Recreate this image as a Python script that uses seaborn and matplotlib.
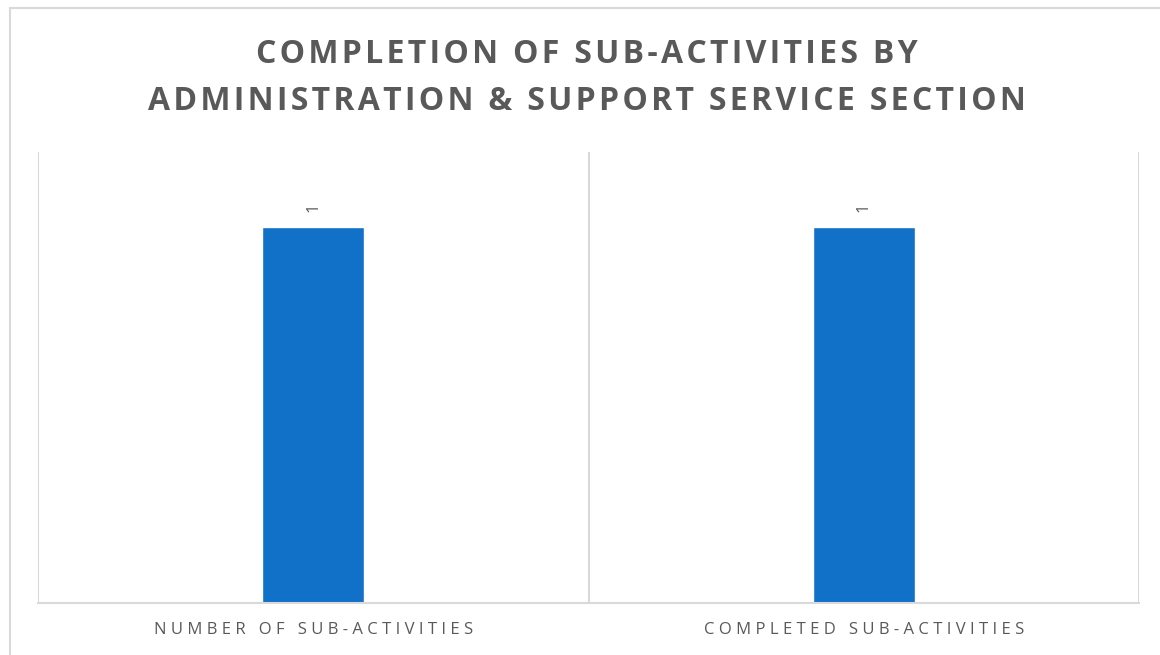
import matplotlib
matplotlib.use("Agg")
import matplotlib.pyplot as plt
import seaborn as sns
import pandas as pd
from matplotlib.lines import Line2D

# data
categories = ["NUMBER OF SUB-ACTIVITIES", "COMPLETED SUB-ACTIVITIES"]
values = [1, 1]
title_lines = ["COMPLETION OF SUB-ACTIVITIES BY", "ADMINISTRATION & SUPPORT SERVICE SECTION"]

BLUE = "#1170C8"
GREY_TXT = "#595959"
GRID = "#d9d9d9"


def spaced(text, sep="\u200a"):
    # poor man's letter spacing
    return sep.join(text)


sns.set_theme(style="white")
plt.rcParams["font.family"] = ["Open Sans", "DejaVu Sans"]

df = pd.DataFrame({"category": categories, "value": values})

fig = plt.figure(figsize=(11.6, 6.55), dpi=100)
ax = fig.add_axes([38 / 1160, 1 - 603 / 655, (1139 - 38) / 1160, (603 - 152) / 655])

sns.barplot(data=df, x="category", y="value", color=BLUE, width=0.185,
            saturation=1, ax=ax)

ax.set_ylim(0, 1.2)
ax.set_xlim(-0.5, 1.5)
ax.set_yticks([])
ax.set_xlabel("")
ax.set_ylabel("")

# category separators as vertical gridlines
ax.set_xticks([-0.5, 0.5, 1.5], minor=True)
ax.grid(True, which="minor", axis="x", color=GRID, linewidth=1.5)
ax.grid(False, which="major")
ax.tick_params(axis="x", which="both", length=0, pad=14)
ax.set_xticks(range(len(categories)))
ax.set_xticklabels([spaced(c, "\u2009\u200a") for c in categories], fontsize=12,
                   color=GREY_TXT)

for s in ["top", "left", "right"]:
    ax.spines[s].set_visible(False)
ax.spines["bottom"].set_color(GRID)
ax.spines["bottom"].set_linewidth(1.5)

for i, v in enumerate(values):
    ax.text(i, v + 0.04, str(v), rotation=90, ha="center", va="bottom",
            fontsize=12, color=GREY_TXT)

fig.text(0.506, 1 - 78 / 655, spaced(title_lines[0]) + "\n" + spaced(title_lines[1]),
         ha="center", va="center", fontsize=23, fontweight="bold",
         color=GREY_TXT, linespacing=1.55)

# outer chart border (top and left only visible in the crop)
fig.add_artist(Line2D([10 / 1160, 10 / 1160], [0, 1 - 8 / 655],
                      transform=fig.transFigure, color=GRID, linewidth=1.5))
fig.add_artist(Line2D([10 / 1160, 1], [1 - 8 / 655, 1 - 8 / 655],
                      transform=fig.transFigure, color=GRID, linewidth=1.5))

fig.savefig("out.png", dpi=100, facecolor="white")
